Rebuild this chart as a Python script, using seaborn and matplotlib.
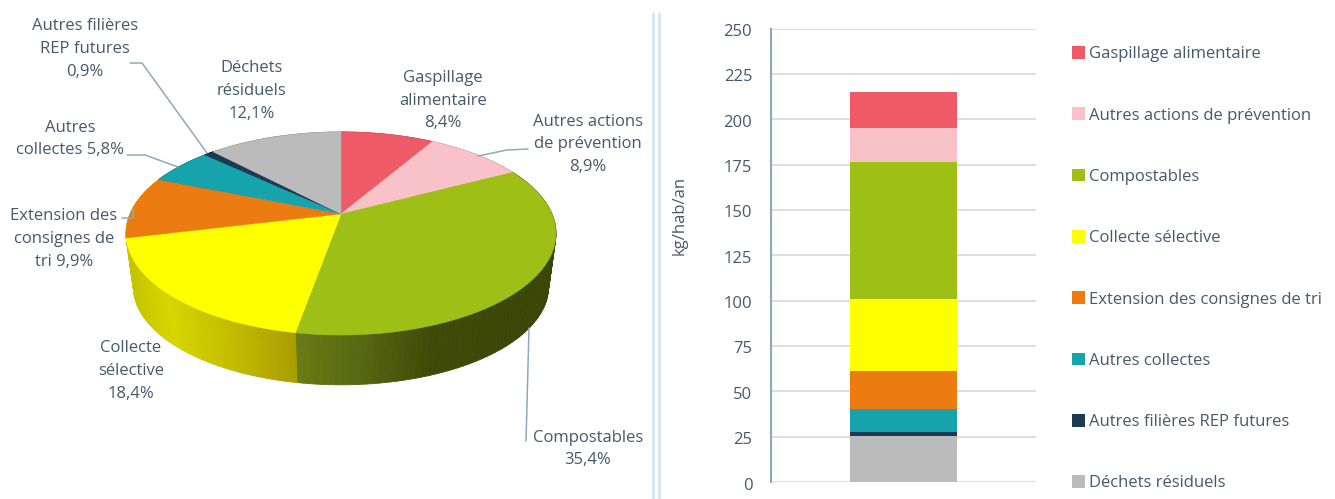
import numpy as np
import pandas as pd
import matplotlib
matplotlib.use("Agg")
import matplotlib.pyplot as plt
import seaborn as sns
from matplotlib.colors import to_rgb
from matplotlib.patches import Polygon, Rectangle
from matplotlib.collections import PolyCollection
from matplotlib.transforms import ScaledTranslation

categories = ["Gaspillage alimentaire", "Autres actions de prévention", "Compostables",
              "Collecte sélective", "Extension des consignes de tri", "Autres collectes",
              "Autres filières REP futures", "Déchets résiduels"]
shares = [8.4, 8.9, 35.4, 18.4, 9.9, 5.8, 0.9, 12.1]
kg_per_capita = [19.6, 18.8, 75.7, 39.9, 20.8, 12.5, 2.2, 25.5]
colors = ["#EE5A66", "#F8C2C8", "#9EBF15", "#FFFF00", "#EC7C12", "#16A3AB", "#1C3A52", "#BBBBBB"]
y_ticks = [0, 25, 50, 75, 100, 125, 150, 175, 200, 225, 250]

pie_labels = [
    ("Gaspillage\nalimentaire\n8,4%", 443, 100.5),
    ("Autres actions\nde prévention\n8,9%", 588, 144.5),
    ("Compostables\n35,4%", 588, 449),
    ("Collecte\nsélective\n18,4%", 131, 371),
    ("Extension des\nconsignes de\ntri 9,9%", 64, 239),
    ("Autres\ncollectes 5,8%", 70, 139),
    ("Autres filières\nREP futures\n0,9%", 85, 49),
    ("Déchets\nrésiduels\n12,1%", 252, 91),
]
leaders = [
    [(130, 63), (142, 63), (207, 153)],
    [(127, 155), (145, 155), (178, 167)],
    [(122, 218), (133, 218), (133, 209)],
    [(528, 149), (507, 150), (478, 156)],
    [(526, 441), (529, 328)],
]
wall_stops = {
    "#FFFF00": [(127, "#C4C400"), (170, "#D6D600"), (230, "#C4BC00"), (297, "#A89C00")],
    "#9EBF15": [(297, "#6A7A15"), (370, "#556410"), (430, "#404A08"), (556, "#3A4506")],
    "#EC7C12": [(127, "#C4C400")],
}

sns.set_theme(style="white")
plt.rcParams["font.family"] = ["Open Sans", "DejaVu Sans"]
text_color = "#45596C"
font_size = 12

W, H = 1335, 499
fig = plt.figure(figsize=(W / 100, H / 100), dpi=100, facecolor="white")

# ---- left: pie in perspective
ax = fig.add_axes([0, 0, 1, 1])
wedges, _ = ax.pie(shares, colors=colors, startangle=90, counterclock=False)
ax.set_aspect("auto")
ax.set_xlim(0, W)
ax.set_ylim(H, 0)
ax.axis("off")

k, a, b = 0.192, 211.0, 97.8
cx, cy = 341.0, 214.0


def project(theta, r=1.0, scale=1.0, yc=cy):
    x, y = r * np.cos(theta), r * np.sin(theta)
    d = 1 + k * y
    return cx + scale * a * x / d, yc - scale * b * y / d


def shade(color, sx):
    stops = wall_stops.get(color)
    if stops is None:
        return tuple(0.7 * c for c in to_rgb(color))
    xs = [s[0] for s in stops]
    rgb = np.array([to_rgb(s[1]) for s in stops])
    return tuple(np.interp(sx, xs, rgb[:, i]) for i in range(3))


# side walls first, so that the top face covers the hidden part
for wedge, color in zip(wedges, colors):
    t = np.radians(np.linspace(wedge.theta1, wedge.theta2, 90))
    tx, ty = project(t)
    bx, by = project(t, scale=0.965, yc=268.0)
    quads, fc = [], []
    for i in range(len(t) - 1):
        quads.append([(tx[i], ty[i]), (tx[i + 1], ty[i + 1]), (bx[i + 1], by[i + 1]), (bx[i], by[i])])
        fc.append(shade(color, (tx[i] + tx[i + 1]) / 2))
    ax.add_collection(PolyCollection(quads, facecolors=fc, edgecolors=fc, linewidths=0.6, zorder=2))

for wedge, color in zip(wedges, colors):
    wedge.set_visible(False)
    t = np.radians(np.linspace(wedge.theta1, wedge.theta2, 90))
    tx, ty = project(t)
    pts = np.vstack([[cx, cy], np.column_stack([tx, ty])])
    ax.add_patch(Polygon(pts, closed=True, facecolor=color, edgecolor=color, linewidth=0.3, zorder=3))

for pts in leaders:
    xs, ys = zip(*pts)
    ax.plot(xs, ys, color="#8FA9BA", lw=1.1, zorder=4)

for label, x, y in pie_labels:
    ax.text(x, y, label, ha="center", va="center", fontsize=font_size, color=text_color,
            linespacing=1.58, zorder=5)

# separator
for x in (652.5, 659):
    ax.plot([x, x], [13, H], color="#CFE3F2", lw=1.8, zorder=1)

# ---- right: stacked bar
axb = fig.add_axes([771 / W, (H - 482) / H, 265 / W, 453.5 / H])
order = list(range(len(categories)))[::-1]
bottom = 0.0
for i in order:
    df = pd.DataFrame({"periode": ["total"], "kg": [kg_per_capita[i]]})
    sns.barplot(data=df, x="periode", y="kg", bottom=bottom, color=colors[i], width=0.4075,
                saturation=1, ax=axb, zorder=3, linewidth=0)
    bottom += kg_per_capita[i]
axb.set_xlim(-0.5, 0.5)
axb.set_ylim(0, 250)
axb.set_xticks([])
axb.set_xlabel("")
axb.set_yticks(y_ticks)
axb.tick_params(axis="y", length=0, pad=13.5, labelsize=font_size, labelcolor=text_color)
axb.grid(axis="y", color="#DEDEDE", lw=1.4, zorder=0)
axb.set_axisbelow(True)
for side in ("top", "right", "bottom"):
    axb.spines[side].set_visible(False)
axb.spines["left"].set_color("#8AA8BC")
axb.spines["left"].set_linewidth(1.5)
nudge = ScaledTranslation(0, -1.5 / 100, fig.dpi_scale_trans)
for lab in axb.get_yticklabels():
    lab.set_fontsize(font_size)
    lab.set_transform(lab.get_transform() + nudge)
axb.set_ylabel("kg/hab/an", fontsize=font_size, color=text_color)
axb.yaxis.set_label_coords((688 - 771) / 265, (482 - 215) / 453.5)

handles = [Rectangle((0, 0), 1, 1, facecolor=c, edgecolor="none") for c in colors]
fig.legend(handles, categories, loc="upper left", bbox_to_anchor=(1072 / W, 1 - 46 / H),
           bbox_transform=fig.transFigure, frameon=False, fontsize=font_size,
           labelcolor=text_color, borderpad=0, borderaxespad=0, labelspacing=2.71,
           handlelength=0.8, handleheight=0.8, handletextpad=0.2)

fig.savefig("out.png", dpi=100)
